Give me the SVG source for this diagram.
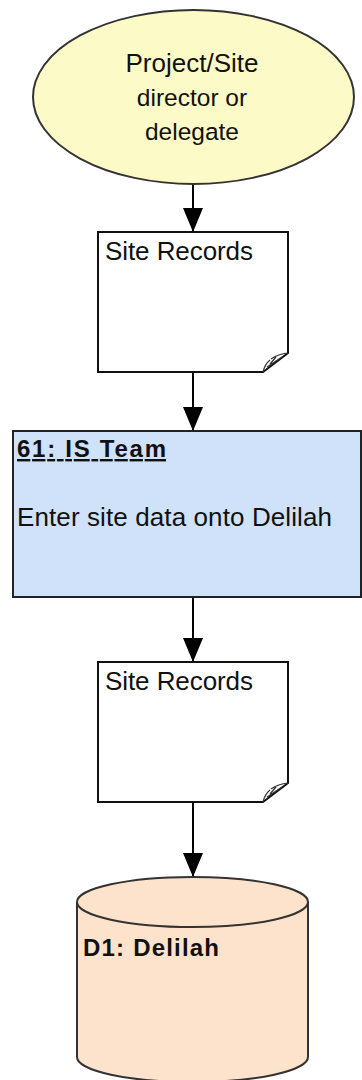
<svg xmlns="http://www.w3.org/2000/svg" width="362" height="1080" viewBox="0 0 362 1080">
  <style>
    .lbl { font-family: "Liberation Sans", Arial, sans-serif; font-size: 26px; fill: #111; }
    .small { font-size: 24.5px; }
    .bold { font-weight: bold; font-size: 24px; }
    .doc { fill: #ffffff; stroke: #111; stroke-width: 2; }
    .curl { fill: none; stroke: #333; stroke-width: 1.2; }
    .conn { stroke: #000; stroke-width: 2; fill: none; }
  </style>
  <defs>
    <marker id="arrow" viewBox="0 0 24 20" refX="24" refY="10" markerWidth="24" markerHeight="20" markerUnits="userSpaceOnUse" orient="auto">
      <path d="M0,0 L24,10 L0,20 Z" fill="#000"/>
    </marker>
  </defs>

  <!-- connectors -->
  <g id="connectors">
    <line class="conn" x1="193" y1="184" x2="193" y2="232" marker-end="url(#arrow)"/>
    <line class="conn" x1="193" y1="372" x2="193" y2="431" marker-end="url(#arrow)"/>
    <line class="conn" x1="193" y1="597" x2="193" y2="662" marker-end="url(#arrow)"/>
    <line class="conn" x1="193" y1="802" x2="193" y2="877" marker-end="url(#arrow)"/>
  </g>

  <!-- start terminator -->
  <g id="start">
    <ellipse cx="193.5" cy="97" rx="160.5" ry="87" fill="#fcfac6" stroke="#333" stroke-width="2"/>
    <text class="lbl" x="192" y="72" text-anchor="middle" textLength="133">Project/Site</text>
    <text class="lbl small" x="192" y="106" text-anchor="middle">director or</text>
    <text class="lbl small" x="192" y="140" text-anchor="middle">delegate</text>
  </g>

  <!-- document: site records (in) -->
  <g id="doc1">
    <path class="doc" d="M98,232 H288 V353 L263,372 H98 Z"/>
    <path class="curl" d="M288,353 Q278,354 271,359 M263,372 Q265,364 270,360 M267,367 L282,357 M270,364 L276,357"/>
    <text class="lbl" x="105" y="260" textLength="148">Site Records</text>
  </g>

  <!-- process step -->
  <g id="step61">
    <rect x="13" y="431" width="348" height="166" fill="#cfe2fa" stroke="#222" stroke-width="2"/>
    <text class="lbl bold" x="17" y="457" textLength="149" text-decoration="underline">61: IS Team</text>
    <text class="lbl" x="17" y="526" textLength="315">Enter site data onto Delilah</text>
  </g>

  <!-- document: site records (out) -->
  <g id="doc2">
    <path class="doc" d="M98,662 H288 V783 L263,802 H98 Z"/>
    <path class="curl" d="M288,783 Q278,784 271,789 M263,802 Q265,794 270,790 M267,797 L282,787 M270,794 L276,787"/>
    <text class="lbl" x="105" y="690" textLength="148">Site Records</text>
  </g>

  <!-- data store -->
  <g id="d1">
    <path d="M77,902 V1057 A115.5,25 0 0 0 308,1057 V902 A115.5,25 0 0 0 77,902 Z" fill="#fde3cc" stroke="#333" stroke-width="2"/>
    <path d="M77,902 A115.5,25 0 0 0 308,902" fill="none" stroke="#333" stroke-width="2"/>
    <text class="lbl bold" x="83" y="956" textLength="136">D1: Delilah</text>
  </g>
</svg>
